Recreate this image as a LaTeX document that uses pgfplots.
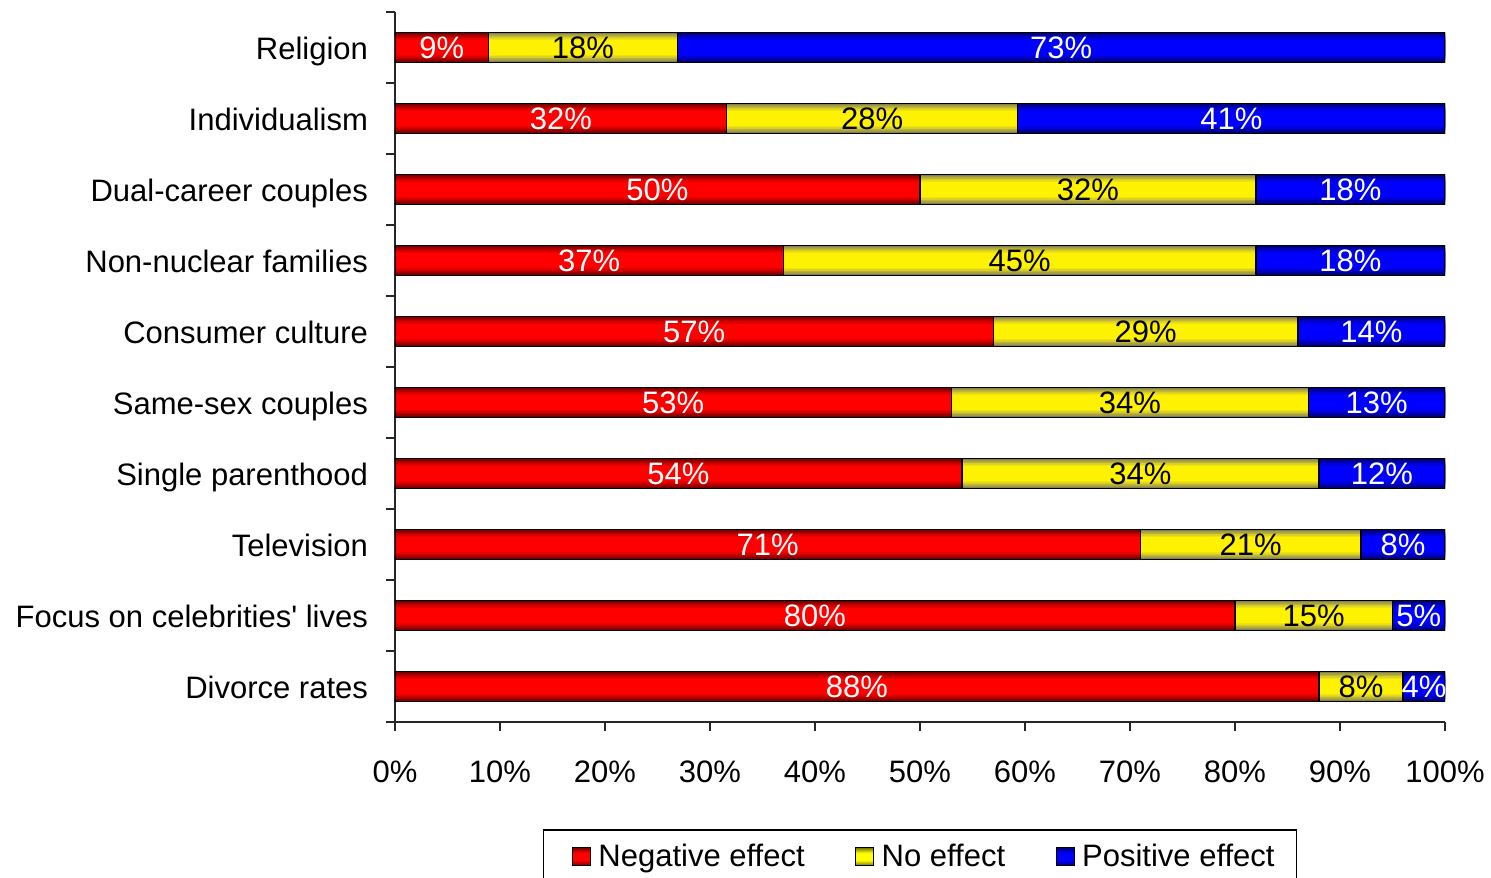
\documentclass[border=0pt]{standalone}
\usepackage{pgfplots}
\pgfplotsset{compat=1.18}
\usepackage{pgfplotstable}
\usepackage{fontspec}
\setmainfont{Liberation Sans}
\newcommand{\fs}{\fontsize{15.5}{18}\selectfont}
\pgfdeclareverticalshading{redbar}{100bp}{color(0bp)=(red!45!black); color(25bp)=(red!45!black); color(40bp)=(red); color(60bp)=(red); color(75bp)=(red!45!black); color(100bp)=(red!45!black)}
\pgfdeclareverticalshading{yelbar}{100bp}{color(0bp)=(yellow!45!black); color(25bp)=(yellow!45!black); color(40bp)=(yellow); color(60bp)=(yellow); color(75bp)=(yellow!45!black); color(100bp)=(yellow!45!black)}
\pgfdeclareverticalshading{bluebar}{100bp}{color(0bp)=(blue!45!black); color(25bp)=(blue!45!black); color(40bp)=(blue); color(60bp)=(blue); color(75bp)=(blue!45!black); color(100bp)=(blue!45!black)}
\pgfplotstableread{
y neg no pos
0 88 8 4
1 80 15 5
2 71 21 8
3 54 34 12
4 53 34 13
5 57 29 14
6 37 45 18
7 50 32 18
8 31.6 27.7 40.7
9 8.9 18 73.1
}\data
% one shaded layer of a bar series: width, colour, end value
\newcommand{\layer}[3]{\addplot[forget plot, xbar, bar shift=0pt, bar width=#1, draw=none, fill=#2] table[x expr={#3}, y=y] {\data};}
\newcommand{\series}[2]{%
  \layer{15pt}{#1!45!black}{#2}
  \layer{13.5pt}{#1!58!black}{#2}
  \layer{12pt}{#1!70!black}{#2}
  \layer{10.5pt}{#1!82!black}{#2}
  \layer{9pt}{#1!92!black}{#2}
  \layer{7.5pt}{#1}{#2}}
\newcommand{\legimg}[1]{\path[draw=none] (0pt,0pt) rectangle (16.5pt,0pt); \draw[draw=black, line width=0.6pt, shading=#1] (5.5pt,-4.5pt) rectangle (14.5pt,4.5pt);}
\begin{document}
\begin{tikzpicture}[font=\fs]
\begin{axis}[
  at={(0,0)}, anchor=south west, scale only axis,
  width=525pt, height=355pt,
  xmin=0, xmax=100, ymin=-0.5, ymax=9.5,
  axis x line*=bottom, axis y line*=left,
  axis line style={line width=0.7pt, draw=black!85},
  tick align=outside, major tick length=4.5pt,
  tick style={line width=0.7pt, draw=black!85},
  xtick={0,10,...,100},
  xticklabels={0\%,10\%,20\%,30\%,40\%,50\%,60\%,70\%,80\%,90\%,100\%},
  x tick label style={yshift=-11.5pt},
  ytick={-0.5,0.5,...,9.5}, yticklabels={},
  extra y ticks={0,1,...,9},
  extra y tick labels={Divorce rates, Focus on celebrities\textquotesingle{} lives, Television, Single parenthood, Same-sex couples, Consumer culture, Non-nuclear families, Dual-career couples, Individualism, Religion},
  extra y tick style={major tick length=0pt, y tick label style={xshift=-10pt, yshift=-2pt, text height=11pt, text depth=3pt}},
  /pgf/number format/assume math mode=true,
  legend columns=3,
  legend style={at={(0.5,0)}, anchor=north, yshift=-53.5pt, draw=black, line width=0.9pt,
    inner xsep=9pt, inner ysep=5pt, font=\fs,
    /tikz/every even column/.append style={column sep=18pt}},
]
% fills: positive (full), no effect, negative, drawn over each other
\series{blue}{\thisrow{neg}+\thisrow{no}+\thisrow{pos}}
\series{yellow}{\thisrow{neg}+\thisrow{no}}
\series{red}{\thisrow{neg}}
% outlines
\addplot[forget plot, xbar, bar shift=0pt, bar width=15pt, draw=black, line width=0.6pt, fill=none]
  table[x expr={\thisrow{neg}+\thisrow{no}+\thisrow{pos}}, y=y] {\data};
\addplot[forget plot, xbar, bar shift=0pt, bar width=15pt, draw=black, line width=0.6pt, fill=none]
  table[x expr={\thisrow{neg}+\thisrow{no}}, y=y] {\data};
\addplot[forget plot, xbar, bar shift=0pt, bar width=15pt, draw=black, line width=0.6pt, fill=none]
  table[x=neg, y=y] {\data};
% value labels, centred in each segment
\addplot[forget plot, draw=none, mark=none, point meta=\thisrow{neg},
  nodes near coords={\pgfmathprintnumber[fixed,precision=0]{\pgfplotspointmeta}\%},
  every node near coord/.append style={anchor=center, text=white, font=\fs}]
  table[x expr={\thisrow{neg}/2}, y=y] {\data};
\addplot[forget plot, draw=none, mark=none, point meta=\thisrow{no},
  nodes near coords={\pgfmathprintnumber[fixed,precision=0]{\pgfplotspointmeta}\%},
  every node near coord/.append style={anchor=center, text=black, font=\fs}]
  table[x expr={\thisrow{neg}+\thisrow{no}/2}, y=y] {\data};
\addplot[forget plot, draw=none, mark=none, point meta=\thisrow{pos},
  nodes near coords={\pgfmathprintnumber[fixed,precision=0]{\pgfplotspointmeta}\%},
  every node near coord/.append style={anchor=center, text=white, font=\fs}]
  table[x expr={\thisrow{neg}+\thisrow{no}+\thisrow{pos}/2}, y=y] {\data};
% legend
\addlegendimage{legend image code/.code={\legimg{redbar}}}
\addlegendentry{Negative effect}
\addlegendimage{legend image code/.code={\legimg{yelbar}}}
\addlegendentry{No effect}
\addlegendimage{legend image code/.code={\legimg{bluebar}}}
\addlegendentry{Positive effect}
\end{axis}
\pgfresetboundingbox
\path[use as bounding box] (-197.5pt,-77.5pt) rectangle (548pt,361pt);
\end{tikzpicture}
\end{document}
